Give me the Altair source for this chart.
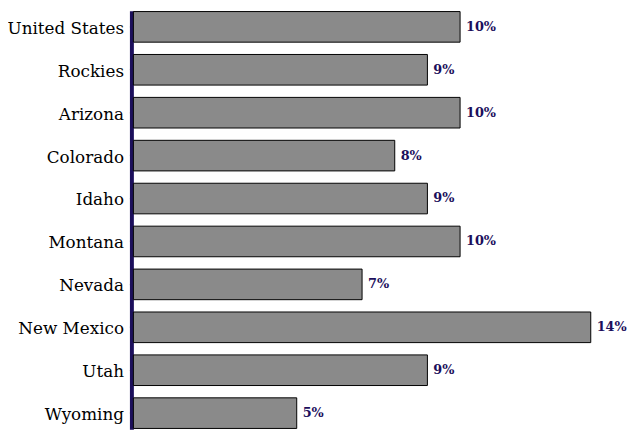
import altair as alt
import pandas as pd

regions = ["United States", "Rockies", "Arizona", "Colorado", "Idaho",
           "Montana", "Nevada", "New Mexico", "Utah", "Wyoming"]
values = [10, 9, 10, 8, 9, 10, 7, 14, 9, 5]
labels = [f"{v}%" for v in values]

df = pd.DataFrame({"region": regions, "value": values, "label": labels})

SERIF = "DejaVu Serif"

y = alt.Y("region:N", sort=regions, title=None,
          scale=alt.Scale(paddingInner=0.287, paddingOuter=0.02),
          axis=alt.Axis(labelFont=SERIF, labelFontSize=17,
                        labelColor="black", labelPadding=6, offset=2,
                        labelOffset=2,
                        domainColor="#1c0f5c", domainWidth=4,
                        tickColor="black", tickSize=2, tickWidth=1,
                        grid=False))
x = alt.X("value:Q", title=None, axis=None,
          scale=alt.Scale(domain=[0, 15.14], nice=False, zero=True))

bars = alt.Chart(df).mark_bar(color="#8a8a8a", stroke="black",
                              strokeWidth=1).encode(x=x, y=y)
text = alt.Chart(df).mark_text(align="left", baseline="middle", dx=6,
                               font=SERIF, fontSize=13,
                               fontWeight="bold", color="#1c0f5c").encode(
    x=x, y=y, text="label:N")

chart = (bars + text).properties(
    width=501, height=424,
    autosize=alt.AutoSizeParams(type="none"),
    padding={"left": 127, "top": 0, "right": 0, "bottom": 0},
).configure_view(stroke=None)

chart.save("out.html", embed_options={"renderer": "svg", "actions": False})
